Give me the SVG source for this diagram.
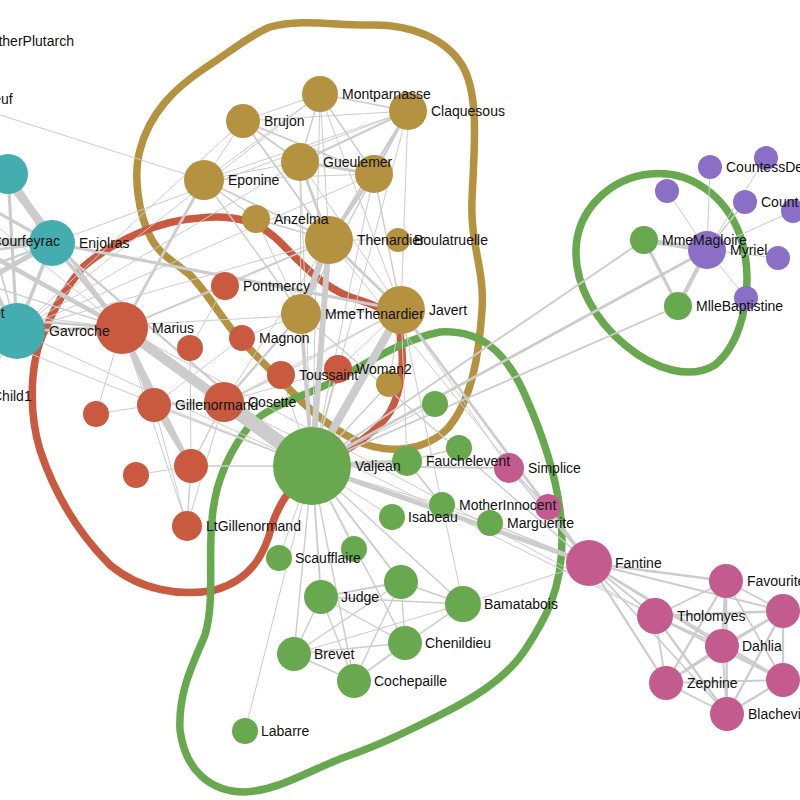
<svg xmlns="http://www.w3.org/2000/svg" width="800" height="800" viewBox="0 0 800 800">
<style>
.hull{fill:none;stroke-width:7.5;stroke-linejoin:round}
.links line{stroke:#cccccc;stroke-linecap:butt}
.a{stroke-width:1}.b{stroke-width:1.4}.c{stroke-width:1.85}.d{stroke-width:2.3}.e{stroke-width:2.75}.f{stroke-width:3.2}.g{stroke-width:3.65}.h{stroke-width:4.1}.i{stroke-width:4.55}.j{stroke-width:5}.k{stroke-width:5.9}.m{stroke-width:6.35}.n{stroke-width:7.25}.o{stroke-width:8.15}.p{stroke-width:9.05}.q{stroke-width:9.95}.r{stroke-width:14.45}
.teal{fill:#44adb0}.red{fill:#c95a40}.gold{fill:#b5923f}.green{fill:#68a84f}.purple{fill:#8b6fc6}.pink{fill:#c45b8e}
text{font-family:"Liberation Sans",Arial,sans-serif;font-size:14px;fill:#111}
</style>
<g id="hulls">
<path class="hull" stroke="#b5923f" d="M270,27 C300,18 340,26 370,25 C410,24 445,38 462,65 C480,95 474,150 472,200 C470,245 485,270 482,310 C479,355 472,400 448,428 C425,452 385,455 355,440 C325,425 305,405 290,390 C270,370 250,350 232,330 C218,312 205,290 190,275 C175,262 160,255 152,240 C138,215 133,175 140,150 C150,112 175,88 205,68 C230,52 250,35 270,27 Z"/>
<path class="hull" stroke="#c95a40" d="M83,267 C115,240 160,220 200,218 C235,214 260,222 280,242 C300,262 320,285 350,297 C375,305 395,310 400,335 C405,360 402,390 390,412 C375,435 350,448 320,465 C295,480 280,500 272,525 C265,555 250,580 215,590 C180,597 140,590 110,565 C80,535 55,495 40,450 C28,410 30,360 45,330 C55,305 68,285 83,267 Z"/>
<path class="hull" stroke="#68a84f" d="M440,332 C480,330 505,350 525,395 C545,440 562,490 562,540 C562,590 545,620 525,650 C505,680 470,700 440,715 C410,730 380,745 345,757 C310,770 280,790 245,792 C210,792 185,770 180,730 C178,690 195,660 205,635 C215,600 208,560 212,520 C215,480 230,450 250,425 C270,405 300,398 330,383 C365,365 400,340 440,332 Z"/>
<path class="hull" stroke="#68a84f" d="M650,174 C690,170 725,195 740,235 C755,280 745,340 715,365 C690,380 655,370 625,345 C595,320 575,285 576,250 C577,210 610,178 650,174 Z"/>
</g>
<g id="links" class="links">
<line class="a" x1="707" y1="250" x2="766" y2="158"/>
<line class="h" x1="707" y1="250" x2="678" y2="306"/>
<line class="j" x1="707" y1="250" x2="644" y2="240"/>
<line class="f" x1="644" y1="240" x2="678" y2="306"/>
<line class="a" x1="707" y1="250" x2="710" y2="167"/>
<line class="a" x1="707" y1="250" x2="667" y2="191"/>
<line class="a" x1="707" y1="250" x2="793" y2="211"/>
<line class="a" x1="707" y1="250" x2="778" y2="258"/>
<line class="b" x1="707" y1="250" x2="745" y2="202"/>
<line class="a" x1="707" y1="250" x2="746" y2="298"/>
<line class="e" x1="312" y1="466" x2="707" y2="250"/>
<line class="c" x1="312" y1="466" x2="644" y2="240"/>
<line class="c" x1="312" y1="466" x2="678" y2="306"/>
<line class="a" x1="312" y1="466" x2="245" y2="731"/>
<line class="a" x1="312" y1="466" x2="490" y2="523"/>
<line class="a" x1="312" y1="466" x2="354" y2="549"/>
<line class="a" x1="312" y1="466" x2="392" y2="517"/>
<line class="a" x1="312" y1="466" x2="435" y2="404"/>
<line class="i" x1="312" y1="466" x2="589" y2="563"/>
<line class="g" x1="312" y1="466" x2="301" y2="314"/>
<line class="k" x1="312" y1="466" x2="329" y2="240"/>
<line class="r" x1="312" y1="466" x2="224" y2="402"/>
<line class="o" x1="312" y1="466" x2="401" y2="310"/>
<line class="h" x1="312" y1="466" x2="407" y2="461"/>
<line class="b" x1="312" y1="466" x2="463" y2="604"/>
<line class="c" x1="312" y1="466" x2="509" y2="468"/>
<line class="a" x1="312" y1="466" x2="279" y2="558"/>
<line class="b" x1="312" y1="466" x2="389" y2="384"/>
<line class="c" x1="312" y1="466" x2="321" y2="597"/>
<line class="c" x1="312" y1="466" x2="401" y2="582"/>
<line class="b" x1="312" y1="466" x2="294" y2="654"/>
<line class="b" x1="312" y1="466" x2="405" y2="643"/>
<line class="b" x1="312" y1="466" x2="354" y2="681"/>
<line class="c" x1="312" y1="466" x2="338" y2="369"/>
<line class="a" x1="312" y1="466" x2="442" y2="505"/>
<line class="a" x1="312" y1="466" x2="17" y2="331"/>
<line class="b" x1="312" y1="466" x2="154" y2="405"/>
<line class="b" x1="312" y1="466" x2="191" y2="466"/>
<line class="p" x1="312" y1="466" x2="122" y2="328"/>
<line class="d" x1="312" y1="466" x2="52" y2="243"/>
<line class="a" x1="312" y1="466" x2="300" y2="162"/>
<line class="a" x1="312" y1="466" x2="374" y2="174"/>
<line class="a" x1="312" y1="466" x2="408" y2="111"/>
<line class="a" x1="312" y1="466" x2="320" y2="94"/>
<line class="a" x1="312" y1="466" x2="281" y2="375"/>
<line class="a" x1="312" y1="466" x2="-72" y2="313"/>
<line class="c" x1="589" y1="563" x2="655" y2="616"/>
<line class="c" x1="589" y1="563" x2="783" y2="611"/>
<line class="c" x1="589" y1="563" x2="783" y2="680"/>
<line class="c" x1="589" y1="563" x2="727" y2="714"/>
<line class="d" x1="589" y1="563" x2="726" y2="581"/>
<line class="d" x1="589" y1="563" x2="722" y2="646"/>
<line class="d" x1="589" y1="563" x2="666" y2="683"/>
<line class="b" x1="589" y1="563" x2="490" y2="523"/>
<line class="b" x1="589" y1="563" x2="301" y2="314"/>
<line class="a" x1="589" y1="563" x2="329" y2="240"/>
<line class="e" x1="589" y1="563" x2="401" y2="310"/>
<line class="a" x1="589" y1="563" x2="463" y2="604"/>
<line class="a" x1="589" y1="563" x2="548" y2="507"/>
<line class="b" x1="589" y1="563" x2="509" y2="468"/>
<line class="d" x1="783" y1="611" x2="655" y2="616"/>
<line class="d" x1="783" y1="680" x2="655" y2="616"/>
<line class="d" x1="783" y1="680" x2="783" y2="611"/>
<line class="d" x1="727" y1="714" x2="655" y2="616"/>
<line class="d" x1="727" y1="714" x2="783" y2="611"/>
<line class="d" x1="727" y1="714" x2="783" y2="680"/>
<line class="c" x1="726" y1="581" x2="655" y2="616"/>
<line class="c" x1="726" y1="581" x2="783" y2="611"/>
<line class="c" x1="726" y1="581" x2="783" y2="680"/>
<line class="d" x1="726" y1="581" x2="727" y2="714"/>
<line class="c" x1="722" y1="646" x2="655" y2="616"/>
<line class="c" x1="722" y1="646" x2="783" y2="611"/>
<line class="c" x1="722" y1="646" x2="783" y2="680"/>
<line class="c" x1="722" y1="646" x2="727" y2="714"/>
<line class="e" x1="722" y1="646" x2="726" y2="581"/>
<line class="c" x1="666" y1="683" x2="655" y2="616"/>
<line class="c" x1="666" y1="683" x2="783" y2="611"/>
<line class="c" x1="666" y1="683" x2="783" y2="680"/>
<line class="c" x1="666" y1="683" x2="727" y2="714"/>
<line class="d" x1="666" y1="683" x2="726" y2="581"/>
<line class="d" x1="666" y1="683" x2="722" y2="646"/>
<line class="a" x1="122" y1="328" x2="655" y2="616"/>
<line class="a" x1="224" y1="402" x2="655" y2="616"/>
<line class="m" x1="329" y1="240" x2="301" y2="314"/>
<line class="d" x1="224" y1="402" x2="301" y2="314"/>
<line class="a" x1="224" y1="402" x2="329" y2="240"/>
<line class="e" x1="401" y1="310" x2="329" y2="240"/>
<line class="a" x1="401" y1="310" x2="301" y2="314"/>
<line class="a" x1="401" y1="310" x2="224" y2="402"/>
<line class="a" x1="407" y1="461" x2="401" y2="310"/>
<line class="a" x1="463" y1="604" x2="401" y2="310"/>
<line class="b" x1="509" y1="468" x2="548" y2="507"/>
<line class="a" x1="509" y1="468" x2="401" y2="310"/>
<line class="a" x1="389" y1="384" x2="401" y2="310"/>
<line class="b" x1="321" y1="597" x2="463" y2="604"/>
<line class="c" x1="401" y1="582" x2="321" y2="597"/>
<line class="b" x1="401" y1="582" x2="463" y2="604"/>
<line class="b" x1="294" y1="654" x2="321" y2="597"/>
<line class="b" x1="294" y1="654" x2="401" y2="582"/>
<line class="a" x1="294" y1="654" x2="463" y2="604"/>
<line class="b" x1="405" y1="643" x2="321" y2="597"/>
<line class="b" x1="405" y1="643" x2="401" y2="582"/>
<line class="b" x1="405" y1="643" x2="294" y2="654"/>
<line class="a" x1="405" y1="643" x2="463" y2="604"/>
<line class="b" x1="354" y1="681" x2="321" y2="597"/>
<line class="b" x1="354" y1="681" x2="401" y2="582"/>
<line class="b" x1="354" y1="681" x2="294" y2="654"/>
<line class="b" x1="354" y1="681" x2="405" y2="643"/>
<line class="a" x1="354" y1="681" x2="463" y2="604"/>
<line class="a" x1="225" y1="286" x2="329" y2="240"/>
<line class="a" x1="398" y1="240" x2="329" y2="240"/>
<line class="b" x1="204" y1="180" x2="301" y2="314"/>
<line class="c" x1="204" y1="180" x2="329" y2="240"/>
<line class="b" x1="256" y1="219" x2="204" y2="180"/>
<line class="b" x1="256" y1="219" x2="329" y2="240"/>
<line class="a" x1="256" y1="219" x2="301" y2="314"/>
<line class="a" x1="338" y1="369" x2="224" y2="402"/>
<line class="a" x1="338" y1="369" x2="401" y2="310"/>
<line class="c" x1="442" y1="505" x2="407" y2="461"/>
<line class="b" x1="459" y1="448" x2="407" y2="461"/>
<line class="a" x1="17" y1="331" x2="329" y2="240"/>
<line class="a" x1="17" y1="331" x2="401" y2="310"/>
<line class="c" x1="154" y1="405" x2="224" y2="402"/>
<line class="a" x1="242" y1="338" x2="154" y2="405"/>
<line class="a" x1="242" y1="338" x2="301" y2="314"/>
<line class="i" x1="191" y1="466" x2="154" y2="405"/>
<line class="b" x1="191" y1="466" x2="224" y2="402"/>
<line class="a" x1="190" y1="348" x2="191" y2="466"/>
<line class="a" x1="190" y1="348" x2="225" y2="286"/>
<line class="a" x1="136" y1="475" x2="191" y2="466"/>
<line class="b" x1="187" y1="526" x2="191" y2="466"/>
<line class="a" x1="187" y1="526" x2="154" y2="405"/>
<line class="a" x1="187" y1="526" x2="224" y2="402"/>
<line class="f" x1="122" y1="328" x2="191" y2="466"/>
<line class="k" x1="122" y1="328" x2="154" y2="405"/>
<line class="a" x1="122" y1="328" x2="225" y2="286"/>
<line class="a" x1="122" y1="328" x2="187" y2="526"/>
<line class="q" x1="122" y1="328" x2="224" y2="402"/>
<line class="b" x1="122" y1="328" x2="329" y2="240"/>
<line class="e" x1="122" y1="328" x2="204" y2="180"/>
<line class="d" x1="122" y1="328" x2="17" y2="331"/>
<line class="a" x1="96" y1="414" x2="154" y2="405"/>
<line class="a" x1="96" y1="414" x2="122" y2="328"/>
<line class="a" x1="-50" y1="99" x2="122" y2="328"/>
<line class="a" x1="-50" y1="99" x2="204" y2="180"/>
<line class="a" x1="-50" y1="99" x2="17" y2="331"/>
<line class="c" x1="-37" y1="41" x2="-50" y2="99"/>
<line class="g" x1="52" y1="243" x2="122" y2="328"/>
<line class="g" x1="52" y1="243" x2="17" y2="331"/>
<line class="f" x1="52" y1="243" x2="401" y2="310"/>
<line class="n" x1="8" y1="174" x2="52" y2="243"/>
<line class="e" x1="8" y1="174" x2="122" y2="328"/>
<line class="f" x1="8" y1="174" x2="17" y2="331"/>
<line class="i" x1="-35" y1="241" x2="122" y2="328"/>
<line class="o" x1="-35" y1="241" x2="52" y2="243"/>
<line class="m" x1="-35" y1="241" x2="8" y2="174"/>
<line class="g" x1="-35" y1="241" x2="17" y2="331"/>
<line class="e" x1="-72" y1="313" x2="122" y2="328"/>
<line class="k" x1="-72" y1="313" x2="-35" y2="241"/>
<line class="e" x1="-72" y1="313" x2="17" y2="331"/>
<line class="j" x1="-72" y1="313" x2="52" y2="243"/>
<line class="i" x1="-72" y1="313" x2="8" y2="174"/>
<line class="c" x1="-90" y1="260" x2="17" y2="331"/>
<line class="e" x1="-90" y1="260" x2="52" y2="243"/>
<line class="e" x1="-90" y1="260" x2="8" y2="174"/>
<line class="b" x1="-90" y1="260" x2="122" y2="328"/>
<line class="b" x1="-60" y1="180" x2="17" y2="331"/>
<line class="f" x1="-60" y1="180" x2="52" y2="243"/>
<line class="e" x1="-60" y1="180" x2="8" y2="174"/>
<line class="a" x1="-60" y1="180" x2="122" y2="328"/>
<line class="e" x1="-100" y1="300" x2="8" y2="174"/>
<line class="e" x1="-100" y1="300" x2="17" y2="331"/>
<line class="d" x1="-100" y1="300" x2="52" y2="243"/>
<line class="a" x1="-100" y1="300" x2="122" y2="328"/>
<line class="a" x1="-40" y1="120" x2="17" y2="331"/>
<line class="d" x1="-40" y1="120" x2="52" y2="243"/>
<line class="b" x1="-40" y1="120" x2="8" y2="174"/>
<line class="c" x1="-120" y1="240" x2="52" y2="243"/>
<line class="a" x1="-120" y1="240" x2="8" y2="174"/>
<line class="b" x1="-50" y1="420" x2="17" y2="331"/>
<line class="b" x1="-24" y1="396" x2="17" y2="331"/>
<line class="e" x1="300" y1="162" x2="329" y2="240"/>
<line class="a" x1="300" y1="162" x2="301" y2="314"/>
<line class="a" x1="300" y1="162" x2="401" y2="310"/>
<line class="a" x1="300" y1="162" x2="17" y2="331"/>
<line class="a" x1="300" y1="162" x2="204" y2="180"/>
<line class="f" x1="374" y1="174" x2="329" y2="240"/>
<line class="f" x1="374" y1="174" x2="300" y2="162"/>
<line class="a" x1="374" y1="174" x2="301" y2="314"/>
<line class="b" x1="374" y1="174" x2="401" y2="310"/>
<line class="a" x1="374" y1="174" x2="17" y2="331"/>
<line class="a" x1="374" y1="174" x2="204" y2="180"/>
<line class="d" x1="408" y1="111" x2="329" y2="240"/>
<line class="d" x1="408" y1="111" x2="374" y2="174"/>
<line class="d" x1="408" y1="111" x2="300" y2="162"/>
<line class="a" x1="408" y1="111" x2="301" y2="314"/>
<line class="a" x1="408" y1="111" x2="401" y2="310"/>
<line class="a" x1="408" y1="111" x2="204" y2="180"/>
<line class="a" x1="408" y1="111" x2="52" y2="243"/>
<line class="a" x1="320" y1="94" x2="401" y2="310"/>
<line class="b" x1="320" y1="94" x2="374" y2="174"/>
<line class="b" x1="320" y1="94" x2="300" y2="162"/>
<line class="b" x1="320" y1="94" x2="408" y2="111"/>
<line class="a" x1="320" y1="94" x2="17" y2="331"/>
<line class="a" x1="320" y1="94" x2="204" y2="180"/>
<line class="a" x1="320" y1="94" x2="329" y2="240"/>
<line class="b" x1="281" y1="375" x2="224" y2="402"/>
<line class="a" x1="281" y1="375" x2="401" y2="310"/>
<line class="c" x1="243" y1="121" x2="374" y2="174"/>
<line class="c" x1="243" y1="121" x2="300" y2="162"/>
<line class="c" x1="243" y1="121" x2="329" y2="240"/>
<line class="a" x1="243" y1="121" x2="17" y2="331"/>
<line class="a" x1="243" y1="121" x2="204" y2="180"/>
<line class="a" x1="243" y1="121" x2="408" y2="111"/>
<line class="a" x1="243" y1="121" x2="320" y2="94"/>
</g>
<g id="nodes">
<g id="n-Claquesous"><circle class="gold" cx="408" cy="111" r="19"/><text x="431" y="111" dy="0.35em">Claquesous</text></g>
<g id="n-Montparnasse"><circle class="gold" cx="320" cy="94" r="18"/><text x="342" y="94" dy="0.35em">Montparnasse</text></g>
<g id="n-Brujon"><circle class="gold" cx="243" cy="121" r="17"/><text x="264" y="121" dy="0.35em">Brujon</text></g>
<g id="n-Babet"><circle class="gold" cx="374" cy="174" r="19"/></g>
<g id="n-Gueulemer"><circle class="gold" cx="300" cy="162" r="19"/><text x="323" y="162" dy="0.35em">Gueulemer</text></g>
<g id="n-Eponine"><circle class="gold" cx="204" cy="180" r="20"/><text x="228" y="180" dy="0.35em">Eponine</text></g>
<g id="n-Boulatruelle"><circle class="gold" cx="398" cy="240" r="12"/><text x="414" y="240" dy="0.35em">Boulatruelle</text></g>
<g id="n-Thenardier"><circle class="gold" cx="329" cy="240" r="24"/><text x="357" y="240" dy="0.35em">Thenardier</text></g>
<g id="n-Anzelma"><circle class="gold" cx="256" cy="219" r="14"/><text x="274" y="219" dy="0.35em">Anzelma</text></g>
<g id="n-Javert"><circle class="gold" cx="401" cy="310" r="24"/><text x="429" y="310" dy="0.35em">Javert</text></g>
<g id="n-MmeThenardier"><circle class="gold" cx="301" cy="314" r="20"/><text x="325" y="314" dy="0.35em">MmeThenardier</text></g>
<g id="n-Woman1"><circle class="gold" cx="389" cy="384" r="13"/></g>
<g id="n-Pontmercy"><circle class="red" cx="225" cy="286" r="14"/><text x="243" y="286" dy="0.35em">Pontmercy</text></g>
<g id="n-MmePontmercy"><circle class="red" cx="190" cy="348" r="13"/></g>
<g id="n-Marius"><circle class="red" cx="122" cy="328" r="26"/><text x="152" y="328" dy="0.35em">Marius</text></g>
<g id="n-Magnon"><circle class="red" cx="242" cy="338" r="13"/><text x="259" y="338" dy="0.35em">Magnon</text></g>
<g id="n-Woman2"><circle class="red" cx="338" cy="369" r="14"/><text x="356" y="369" dy="0.35em">Woman2</text></g>
<g id="n-Toussaint"><circle class="red" cx="281" cy="375" r="14"/><text x="299" y="375" dy="0.35em">Toussaint</text></g>
<g id="n-Cosette"><circle class="red" cx="224" cy="402" r="20"/><text x="248" y="402" dy="0.35em">Cosette</text></g>
<g id="n-Gillenormand"><circle class="red" cx="154" cy="405" r="17"/><text x="175" y="405" dy="0.35em">Gillenormand</text></g>
<g id="n-Baroness"><circle class="red" cx="96" cy="414" r="13"/></g>
<g id="n-MlleGillenormand"><circle class="red" cx="191" cy="466" r="17"/></g>
<g id="n-MlleVaubois"><circle class="red" cx="136" cy="475" r="13"/></g>
<g id="n-LtGillenormand"><circle class="red" cx="187" cy="526" r="15"/><text x="206" y="526" dy="0.35em">LtGillenormand</text></g>
<g id="n-MotherPlutarch"><circle class="teal" cx="-37" cy="41" r="12"/><text x="-21" y="41" dy="0.35em">MotherPlutarch</text></g>
<g id="n-Mabeuf"><circle class="teal" cx="-50" cy="99" r="12"/><text x="-34" y="99" dy="0.35em">Mabeuf</text></g>
<g id="n-Prouvaire"><circle class="teal" cx="-40" cy="120" r="12"/></g>
<g id="n-Feuilly"><circle class="teal" cx="-60" cy="180" r="14"/></g>
<g id="n-Grantaire"><circle class="teal" cx="-120" cy="240" r="14"/></g>
<g id="n-Joly"><circle class="teal" cx="-90" cy="260" r="16"/></g>
<g id="n-Bahorel"><circle class="teal" cx="-100" cy="300" r="16"/></g>
<g id="n-Child2"><circle class="teal" cx="-50" cy="420" r="12"/></g>
<g id="n-Combeferre"><circle class="teal" cx="8" cy="174" r="20"/></g>
<g id="n-Enjolras"><circle class="teal" cx="52" cy="243" r="23"/><text x="79" y="243" dy="0.35em">Enjolras</text></g>
<g id="n-Gavroche"><circle class="teal" cx="17" cy="331" r="28"/><text x="49" y="331" dy="0.35em">Gavroche</text></g>
<g id="n-Courfeyrac"><circle class="teal" cx="-35" cy="241" r="22"/><text x="-8.5" y="241" dy="0.35em">Courfeyrac</text></g>
<g id="n-Bossuet"><circle class="teal" cx="-72" cy="313" r="22"/><text x="-46" y="313" dy="0.35em">Bossuet</text></g>
<g id="n-Child1"><circle class="teal" cx="-24" cy="396" r="12"/><text x="-8" y="396" dy="0.35em">Child1</text></g>
<g id="n-Napoleon"><circle class="purple" cx="766" cy="158" r="12"/></g>
<g id="n-CountessDeLo"><circle class="purple" cx="710" cy="167" r="12"/><text x="726" y="167" dy="0.35em">CountessDeLo</text></g>
<g id="n-Geborand"><circle class="purple" cx="667" cy="191" r="12"/></g>
<g id="n-Champtercier"><circle class="purple" cx="793" cy="211" r="12"/></g>
<g id="n-Count"><circle class="purple" cx="745" cy="202" r="12"/><text x="761" y="202" dy="0.35em">Count</text></g>
<g id="n-Cravatte"><circle class="purple" cx="778" cy="258" r="12"/></g>
<g id="n-OldMan"><circle class="purple" cx="746" cy="298" r="12"/></g>
<g id="n-Myriel"><circle class="purple" cx="707" cy="250" r="19"/><text x="730" y="250" dy="0.35em">Myriel</text></g>
<g id="n-MmeMagloire"><circle class="green" cx="644" cy="240" r="14"/><text x="662" y="240" dy="0.35em">MmeMagloire</text></g>
<g id="n-MlleBaptistine"><circle class="green" cx="678" cy="306" r="14"/><text x="696" y="306" dy="0.35em">MlleBaptistine</text></g>
<g id="n-Simplice"><circle class="pink" cx="509" cy="468" r="15"/><text x="528" y="468" dy="0.35em">Simplice</text></g>
<g id="n-Perpetue"><circle class="pink" cx="548" cy="507" r="13"/></g>
<g id="n-Fantine"><circle class="pink" cx="589" cy="563" r="23"/><text x="615" y="563" dy="0.35em">Fantine</text></g>
<g id="n-Favourite"><circle class="pink" cx="726" cy="581" r="17"/><text x="747" y="581" dy="0.35em">Favourite</text></g>
<g id="n-Listolier"><circle class="pink" cx="783" cy="611" r="17"/></g>
<g id="n-Tholomyes"><circle class="pink" cx="655" cy="616" r="18"/><text x="677" y="616" dy="0.35em">Tholomyes</text></g>
<g id="n-Dahlia"><circle class="pink" cx="722" cy="646" r="17"/><text x="742" y="646" dy="0.35em">Dahlia</text></g>
<g id="n-Zephine"><circle class="pink" cx="666" cy="683" r="17"/><text x="687" y="683" dy="0.35em">Zephine</text></g>
<g id="n-Fameuil"><circle class="pink" cx="783" cy="680" r="17"/></g>
<g id="n-Blacheville"><circle class="pink" cx="727" cy="714" r="17"/><text x="748" y="714" dy="0.35em">Blacheville</text></g>
<g id="n-Gervais"><circle class="green" cx="435" cy="404" r="13"/></g>
<g id="n-Gribier"><circle class="green" cx="459" cy="448" r="13"/></g>
<g id="n-Fauchelevent"><circle class="green" cx="407" cy="461" r="15"/><text x="426" y="461" dy="0.35em">Fauchelevent</text></g>
<g id="n-Valjean"><circle class="green" cx="312" cy="466" r="39"/><text x="355" y="466" dy="0.35em">Valjean</text></g>
<g id="n-MotherInnocent"><circle class="green" cx="442" cy="505" r="13"/><text x="459" y="505" dy="0.35em">MotherInnocent</text></g>
<g id="n-Isabeau"><circle class="green" cx="392" cy="517" r="13"/><text x="408" y="517" dy="0.35em">Isabeau</text></g>
<g id="n-Marguerite"><circle class="green" cx="490" cy="523" r="13"/><text x="507" y="523" dy="0.35em">Marguerite</text></g>
<g id="n-MmeDeR"><circle class="green" cx="354" cy="549" r="13"/></g>
<g id="n-Scaufflaire"><circle class="green" cx="279" cy="558" r="13"/><text x="295" y="558" dy="0.35em">Scaufflaire</text></g>
<g id="n-Judge"><circle class="green" cx="321" cy="597" r="17"/><text x="341" y="597" dy="0.35em">Judge</text></g>
<g id="n-Champmathieu"><circle class="green" cx="401" cy="582" r="17"/></g>
<g id="n-Bamatabois"><circle class="green" cx="463" cy="604" r="18"/><text x="484" y="604" dy="0.35em">Bamatabois</text></g>
<g id="n-Chenildieu"><circle class="green" cx="405" cy="643" r="17"/><text x="425" y="643" dy="0.35em">Chenildieu</text></g>
<g id="n-Brevet"><circle class="green" cx="294" cy="654" r="17"/><text x="314" y="654" dy="0.35em">Brevet</text></g>
<g id="n-Cochepaille"><circle class="green" cx="354" cy="681" r="17"/><text x="374" y="681" dy="0.35em">Cochepaille</text></g>
<g id="n-Labarre"><circle class="green" cx="245" cy="731" r="13"/><text x="261" y="731" dy="0.35em">Labarre</text></g>
</g>
</svg>
